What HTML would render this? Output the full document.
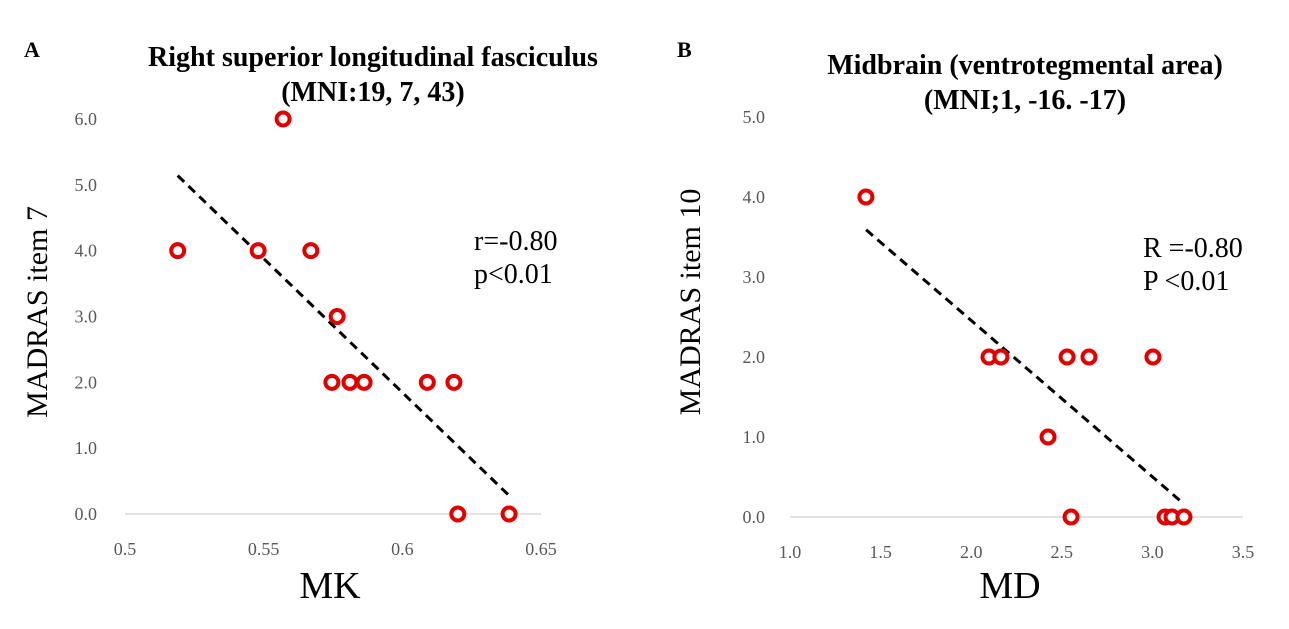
<!DOCTYPE html>
<html><head><meta charset="utf-8"><style>
html,body{margin:0;padding:0;background:#fff;}
svg{display:block;font-family:"Liberation Serif",serif;}
.tick{fill:#595959;font-size:18px;}
</style></head><body>
<svg id="chart" width="1289" height="629" viewBox="0 0 1289 629"></svg>
<script>
const aX=[0.519,0.557,0.548,0.567,0.5765,0.5746,0.5811,0.5862,0.609,0.6186,0.620,0.6385];
const aY=[4,6,4,4,3,2,2,2,2,2,0,0];
const aTrend=[[0.519,5.14],[0.639,0.26]];
const aXTicks=["0.5","0.55","0.6","0.65"];
const aYTicks=["0.0","1.0","2.0","3.0","4.0","5.0","6.0"];
const bX=[1.419,2.098,2.164,2.529,2.650,3.003,2.424,2.551,3.07,3.108,3.174];
const bY=[4,2,2,2,2,2,1,0,0,0,0];
const bTrend=[[1.42,3.59],[3.15,0.21]];
const bXTicks=["1.0","1.5","2.0","2.5","3.0","3.5"];
const bYTicks=["0.0","1.0","2.0","3.0","4.0","5.0"];
const NS="http://www.w3.org/2000/svg";
const svg=document.getElementById('chart');
function mk(tag,attrs,parent,text){const e=document.createElementNS(NS,tag);for(const k in attrs)e.setAttribute(k,attrs[k]);if(text!==undefined)e.textContent=text;(parent||svg).appendChild(e);return e;}
function panel(cfg){
  const g=mk('g',{});
  
  
  const sx=v=>cfg.x0px+(v-cfg.xmin)/(cfg.xmax-cfg.xmin)*(cfg.x1px-cfg.x0px);
  const sy=v=>cfg.y0px-(v-cfg.ymin)/(cfg.ymax-cfg.ymin)*(cfg.y0px-cfg.y1px);
  const ax=mk('line',{x1:cfg.x0px,x2:cfg.x1px,y1:cfg.y0px,y2:cfg.y0px,stroke:'#d9d9d9','stroke-width':1.5},g);
  
  
  cfg.xt.forEach(t=>{const e=mk('text',{x:sx(parseFloat(t)),y:cfg.y0px+41,'text-anchor':'middle',class:'tick'},g,t);
    
    });
  cfg.yt.forEach(t=>{const e=mk('text',{x:cfg.ylabX,y:sy(parseFloat(t))+6,'text-anchor':'end',class:'tick'},g,t);
    
    });
  const tr=mk('line',{x1:sx(cfg.trend[0][0]),y1:sy(cfg.trend[0][1]),x2:sx(cfg.trend[1][0]),y2:sy(cfg.trend[1][1]),stroke:'#000','stroke-width':3,'stroke-dasharray':'9,6'},g);
  
  
  cfg.xs.forEach((v,i)=>{const c=mk('circle',{cx:sx(v),cy:sy(cfg.ys[i]),r:6.5,fill:'#fff',stroke:'#e00000','stroke-width':4},g);
    
    });
}
panel({name:'panel-a',xs:aX,ys:aY,trend:aTrend,xt:aXTicks,yt:aYTicks,xmin:0.5,xmax:0.65,ymin:0,ymax:6,x0px:125,x1px:541,y0px:514,y1px:119,ylabX:97});
panel({name:'panel-b',xs:bX,ys:bY,trend:bTrend,xt:bXTicks,yt:bYTicks,xmin:1,xmax:3.5,ymin:0,ymax:5,x0px:790,x1px:1243,y0px:517,y1px:117,ylabX:765});
function txt(name,attrs,s){const e=mk('text',attrs,svg,s);return e;}
txt('panel-a-label',{x:24,y:57,'font-size':22,'font-weight':'bold'},'A');
txt('panel-b-label',{x:677,y:57,'font-size':22,'font-weight':'bold'},'B');
txt('title-a-line1',{x:373,y:66,'font-size':28,'font-weight':'bold','text-anchor':'middle'},'Right superior longitudinal fasciculus');
txt('title-a-line2',{x:373,y:101,'font-size':28,'font-weight':'bold','text-anchor':'middle'},'(MNI:19, 7, 43)');
txt('title-b-line1',{x:1025,y:74,'font-size':28,'font-weight':'bold','text-anchor':'middle'},'Midbrain (ventrotegmental area)');
txt('title-b-line2',{x:1025,y:109,'font-size':28,'font-weight':'bold','text-anchor':'middle'},'(MNI;1, -16. -17)');
txt('stat-a-r',{x:474,y:250,'font-size':28},'r=-0.80');
txt('stat-a-p',{x:474,y:283,'font-size':28},'p<0.01');
txt('stat-b-r',{x:1143,y:257,'font-size':28},'R =-0.80');
txt('stat-b-p',{x:1143,y:290,'font-size':28},'P <0.01');
txt('x-axis-title-a',{x:330,y:598,'font-size':38,'text-anchor':'middle'},'MK');
txt('x-axis-title-b',{x:1010,y:598,'font-size':38,'text-anchor':'middle'},'MD');
txt('y-axis-title-a',{x:0,y:0,'font-size':30,'text-anchor':'middle',transform:'translate(47,312) rotate(-90)'},'MADRAS item 7');
txt('y-axis-title-b',{x:0,y:0,'font-size':30,'text-anchor':'middle',transform:'translate(700,302) rotate(-90)'},'MADRAS item 10');
</script>
</body></html>
